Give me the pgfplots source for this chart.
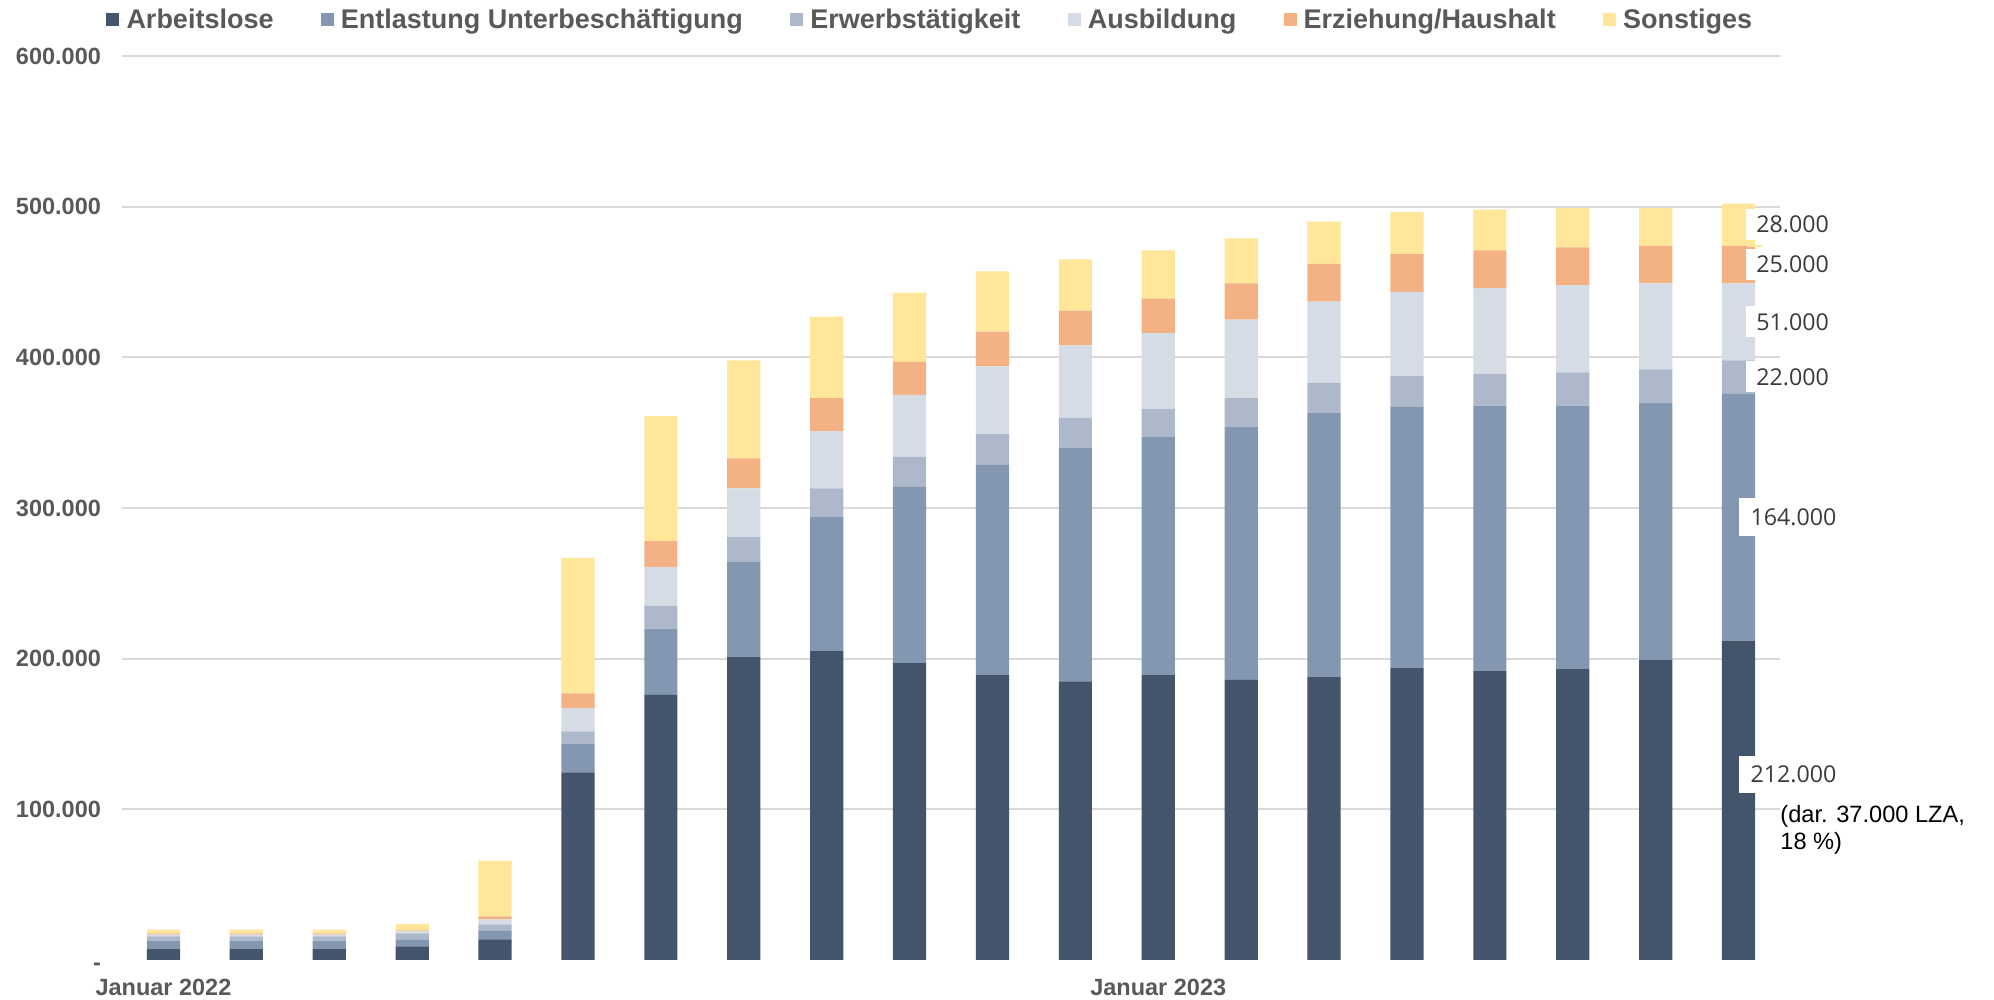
\documentclass[border=0pt]{standalone}
\usepackage{fontspec}
\setmainfont{Liberation Sans}
\newfontfamily\osans{Open Sans}
\usepackage{pgfplots}
\usepackage{pgfplotstable}
\pgfplotsset{compat=1.18}
\definecolor{cA}{HTML}{44546A}
\definecolor{cE}{HTML}{8497B0}
\definecolor{cW}{HTML}{ADB9CA}
\definecolor{cB}{HTML}{D6DCE5}
\definecolor{cH}{HTML}{F4B183}
\definecolor{cS}{HTML}{FFE699}
\definecolor{txt}{HTML}{595959}
\definecolor{lab}{HTML}{3A3A3A}
\definecolor{grd}{HTML}{D9D9D9}
\pgfplotstableread{
x  A      E      W     B     H     S
0  7500   5300   2900  1100  900   2400
1  7500   5300   2900  1100  900   2400
2  7500   5300   2900  1100  900   2400
3  9100   4600   4000  1300  700   4200
4  13700  6000   4000  3300  2000  36900
5  124500 18700  8600  15300 9800  90000
6  176000 44000  15000 26000 17000 83000
7  201000 63000  17000 32000 20000 65000
8  205000 89000  19000 38000 22000 54000
9  197000 117000 20000 41000 22000 46000
10 189000 140000 20000 45000 23000 40000
11 185000 155000 20000 48000 23000 34000
12 189000 158000 19000 50000 23000 32000
13 186000 168000 19000 52000 24000 30000
14 188000 175000 20000 54000 25000 28000
15 194000 173500 20000 56000 25000 28000
16 192000 176000 21000 57000 25000 27000
17 193000 175000 22000 58000 25000 26000
18 199000 171000 22000 57000 25000 25000
19 212000 164000 22000 51000 25000 28000
}\data
\pgfplotsset{
  myleg/.style={/pgfplots/legend image code/.code={\path (0pt,0pt) -- (8.5pt,0pt);\fill[##1] (0pt,-3.25pt) rectangle (6.5pt,3.25pt);}},
}
\begin{document}
\begin{tikzpicture}
\begin{axis}[
  at={(0,0)}, anchor=south west,
  scale only axis, width=829pt, height=452pt,
  xmin=-0.5, xmax=19.5, ymin=0, ymax=600000,
  ybar stacked, bar width=16.6pt,
  axis line style={draw=none}, tick style={draw=none}, major tick length=0pt,
  ymajorgrids, grid style={grd, line width=1pt},
  ytick={100000,200000,300000,400000,500000,600000},
  yticklabels={100.000,200.000,300.000,400.000,500.000,600.000},
  extra y ticks={0}, extra y tick labels={-},
  extra y tick style={grid=none, yticklabel style={yshift=-3.2pt}},
  scaled y ticks=false,
  xtick={0,12}, xticklabels={Januar 2022, Januar 2023},
  ticklabel style={font=\fontsize{11.75}{14}\selectfont\bfseries, text=txt},
  yticklabel style={xshift=-7pt},
  xticklabel style={yshift=-6pt},
  clip=false,
  legend columns=6,
  legend style={draw=none, fill=none, at={(axis description cs:-0.0097,1.04)}, anchor=west,
    inner sep=0pt, font=\fontsize{13.5}{15}\selectfont\bfseries, text=txt,
    nodes={inner sep=1.6pt},
    /tikz/every even column/.append style={column sep=22pt}},
]
\addplot[fill=cA, draw=none, myleg] table[x=x,y=A]{\data};
\addplot[fill=cE, draw=none, myleg] table[x=x,y=E]{\data};
\addplot[fill=cW, draw=none, myleg] table[x=x,y=W]{\data};
\addplot[fill=cB, draw=none, myleg] table[x=x,y=B]{\data};
\addplot[fill=cH, draw=none, myleg] table[x=x,y=H]{\data};
\addplot[fill=cS, draw=none, myleg] table[x=x,y=S]{\data};
\legend{Arbeitslose, Entlastung Unterbeschäftigung, Erwerbstätigkeit, Ausbildung, Erziehung/Haushalt, Sonstiges}
\coordinate (l1) at (axis cs:19.09,488000);
\coordinate (s1) at (axis cs:19.1,474000);
\coordinate (s2) at (axis cs:19.28,474000);
\coordinate (l2) at (axis cs:19.09,461500);
\coordinate (l3) at (axis cs:19.09,423500);
\coordinate (l4) at (axis cs:19.09,387000);
\coordinate (l5) at (axis cs:18.995,294000);
\coordinate (l6) at (axis cs:18.995,123000);
\coordinate (d1) at (axis cs:19.5,95500);
\coordinate (d2) at (axis cs:19.5,77600);
\end{axis}
\tikzset{lbl/.style={anchor=west, fill=white, inner xsep=5pt, inner ysep=3.5pt, font=\osans\fontsize{11.6}{13}\selectfont, text=lab},
         lblb/.style={lbl, inner xsep=6pt, inner ysep=5pt}}
\node[lbl] at (l1) {28.000};
\draw[cS, line width=1.2pt] (s1) -- (s2);
\node[lbl] at (l2) {25.000};
\node[lbl] at (l3) {51.000};
\node[lbl] at (l4) {22.000};
\node[lblb] at (l5) {164.000};
\node[lblb] at (l6) {212.000};
\node[anchor=west, inner sep=0pt, font=\fontsize{11.8}{14}\selectfont, text=black] at (d1) {(dar. 37.000 LZA,};
\node[anchor=west, inner sep=0pt, font=\fontsize{11.8}{14}\selectfont, text=black] at (d2) {18 \%)};
\pgfresetboundingbox
\path[use as bounding box] (-61pt,-20pt) rectangle (936pt,480pt);
\end{tikzpicture}
\end{document}
